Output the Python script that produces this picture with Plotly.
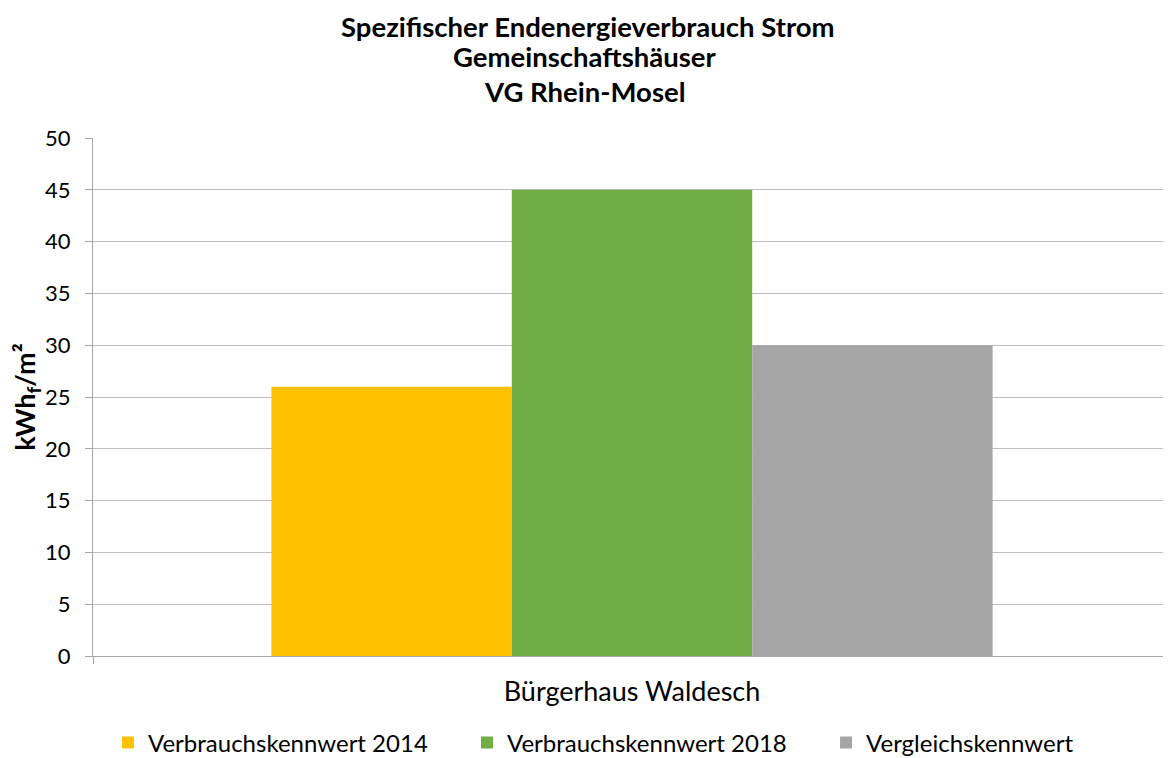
import plotly.graph_objects as go

categories = ["Bürgerhaus Waldesch"]
series_names = ["Verbrauchskennwert 2014", "Verbrauchskennwert 2018", "Vergleichskennwert"]
values_2014 = [26]
values_2018 = [45]
values_vergleich = [30]
colors = ["#FFC000", "#70AD47", "#A5A5A5"]
title_lines = ["Spezifischer Endenergieverbrauch Strom", "Gemeinschaftshäuser", "VG Rhein-Mosel"]

FONT = "Lato, Open Sans, sans-serif"
legend_ids = ["legend", "legend2", "legend3"]
legend_x = [0.0139, 0.3469, 0.6800]

fig = go.Figure()
for name, vals, col, lg in zip(series_names, [values_2014, values_2018, values_vergleich], colors, legend_ids):
    fig.add_trace(go.Bar(x=categories, y=vals, name=name, legend=lg,
                         marker=dict(color=col, line=dict(width=0))))

for line, ypos, xpos in zip(title_lines, [1.216, 1.158, 1.090], [0.459, 0.456, 0.456]):
    fig.add_annotation(
        text=f"<b>{line}</b>", x=xpos, y=ypos, xref="paper", yref="paper",
        xanchor="center", yanchor="middle", showarrow=False,
        font=dict(size=27.5, family=FONT, color="#000000"),
    )

legend_style = dict(
    orientation="h", xanchor="left",
    yref="container", y=0.02, yanchor="middle",
    font=dict(size=24, family=FONT, color="#000000"),
    bgcolor="rgba(0,0,0,0)",
)
fig.update_layout(
    width=1163, height=750,
    paper_bgcolor="white", plot_bgcolor="white",
    barmode="group", bargap=0.331, bargroupgap=0,
    margin=dict(l=85, r=0, t=130, b=102),
    font=dict(family=FONT, color="#000000"),
    legend=dict(x=legend_x[0], **legend_style),
    legend2=dict(x=legend_x[1], **legend_style),
    legend3=dict(x=legend_x[2], **legend_style),
    showlegend=True,
)
fig.update_yaxes(
    range=[0, 50], dtick=5, tickmode="linear",
    showgrid=True, gridcolor="#BFBFBF", gridwidth=1,
    showline=True, linecolor="#A6A6A6", linewidth=1,
    ticks="outside", ticklen=7, tickcolor="#A6A6A6",
    ticklabelstandoff=10,
    tickfont=dict(size=22, family=FONT, color="#000000"),
    title=dict(text="<b>kWh<sub>f</sub>/m²</b>", font=dict(size=27, family=FONT, color="#000000"), standoff=4),
    zeroline=False, automargin=False,
)
fig.update_xaxes(
    showline=True, linecolor="#A6A6A6", linewidth=1,
    ticks="outside", tickson="boundaries", ticklen=7, tickcolor="#A6A6A6",
    ticklabelstandoff=12,
    tickfont=dict(size=27, family=FONT, color="#000000"),
    automargin=False,
)
fig.write_html("out.html")
